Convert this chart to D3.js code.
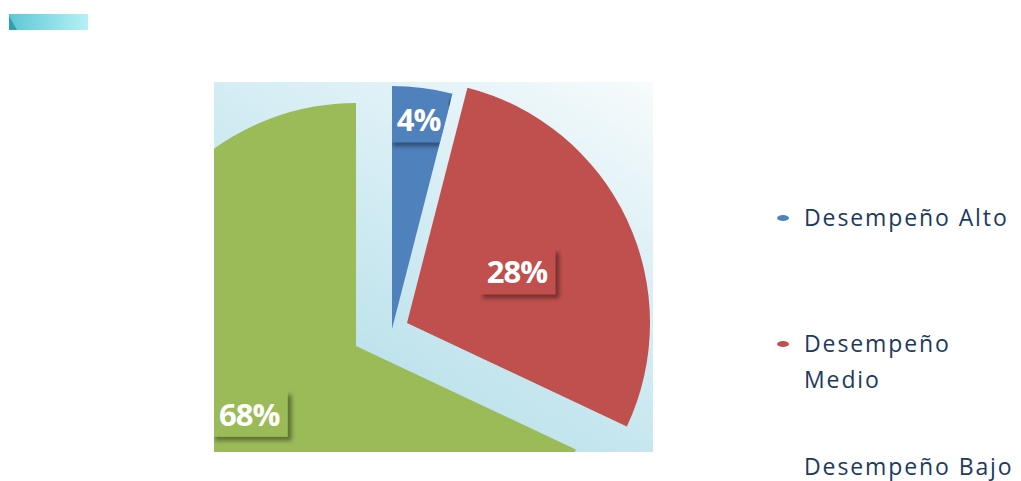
<!DOCTYPE html>
<html>
<head>
<meta charset="utf-8">
<script src="https://cdn.jsdelivr.net/npm/d3@7"></script>
<style>
  html, body { margin: 0; padding: 0; background: #ffffff; }
  svg { display: block; }
</style>
</head>
<body>
<svg id="chart" width="1021" height="481"></svg>
<script>
// ---- data ----
const categories = ["Desempeño Alto", "Desempeño Medio", "Desempeño Bajo"];
const values = [4, 28, 68];
const labels = ["4%", "28%", "68%"];
const colors = ["#4f81bd", "#c0504d", "#9bbb59"];
const legendLines = [["Desempeño Alto"], ["Desempeño", "Medio"], ["Desempeño Bajo"]];
const legendMarkers = ["#4f81bd", "#c0504d", "none"];

// ---- layout ----
const W = 1021, H = 481;
const plot = { x: 214, y: 82, w: 439, h: 370 };
const center = { x: 356, y: 346 };
const radius = 243;
const explode = [{ dx: 36, dy: -17 }, { dx: 51, dy: -23 }, { dx: 0, dy: 0 }];
const labelRadiusFactor = [0.87, 0.5, 0.52];

const svg = d3.select("#chart");
const defs = svg.append("defs");

// background gradient
const bg = defs.append("linearGradient").attr("id", "bgGrad")
  .attr("x1", "1").attr("y1", "0").attr("x2", "0.3").attr("y2", "1");
bg.append("stop").attr("offset", "0").attr("stop-color", "#f7fbfb");
bg.append("stop").attr("offset", "0.35").attr("stop-color", "#dcf0f6");
bg.append("stop").attr("offset", "1").attr("stop-color", "#b1dde8");

const tl = defs.append("linearGradient").attr("id", "barGrad")
  .attr("x1", "0").attr("y1", "0").attr("x2", "1").attr("y2", "0");
tl.append("stop").attr("offset", "0").attr("stop-color", "#5cc7d6");
tl.append("stop").attr("offset", "1").attr("stop-color", "#b6f1f6");

defs.append("clipPath").attr("id", "plotClip")
  .append("rect").attr("x", plot.x).attr("y", plot.y).attr("width", plot.w).attr("height", plot.h);

const shadow = defs.append("filter").attr("id", "boxShadow")
  .attr("x", "-30%").attr("y", "-30%").attr("width", "160%").attr("height", "160%");
shadow.append("feDropShadow").attr("dx", 4).attr("dy", 4).attr("stdDeviation", 2)
  .attr("flood-color", "#000").attr("flood-opacity", 0.4);

// top-left decoration
svg.append("rect").attr("x", 9).attr("y", 14).attr("width", 79).attr("height", 16)
  .attr("fill", "url(#barGrad)");
svg.append("path").attr("d", "M9,16 L9,30 L17,30 Z").attr("fill", "#1d8f9a").attr("opacity", 0.7);

// plot background
const g = svg.append("g").attr("clip-path", "url(#plotClip)");
g.append("rect").attr("x", plot.x).attr("y", plot.y).attr("width", plot.w).attr("height", plot.h)
  .attr("fill", "url(#bgGrad)");

const pie = d3.pie().sort(null).value(d => d)(values);
const arc = d3.arc().innerRadius(0).outerRadius(radius);

pie.forEach((p, i) => {
  const cx = center.x + explode[i].dx, cy = center.y + explode[i].dy;
  const cid = "sliceClip" + i;
  defs.append("clipPath").attr("id", cid)
    .append("path").attr("d", arc(p)).attr("transform", `translate(${cx},${cy})`);
  const sg = g.append("g");
  sg.append("path").attr("d", arc(p)).attr("transform", `translate(${cx},${cy})`)
    .attr("fill", colors[i]);
  // label
  const lr = radius * labelRadiusFactor[i];
  const la = d3.arc().innerRadius(lr).outerRadius(lr);
  const [lx, ly] = la.centroid(p);
  const lg = sg.append("g").attr("clip-path", `url(#${cid})`);
  const txt = lg.append("text").attr("x", cx + lx).attr("y", cy + ly)
    .attr("text-anchor", "middle").attr("dominant-baseline", "central")
    .attr("font-family", "Open Sans, sans-serif").attr("font-weight", 700)
    .attr("font-size", 31).attr("letter-spacing", -1).attr("fill", "#ffffff").text(labels[i]);
  const bb = txt.node().getBBox();
  lg.insert("rect", "text").attr("x", bb.x - 8).attr("y", cy + ly - 23)
    .attr("width", bb.width + 16).attr("height", 46)
    .attr("fill", colors[i]).attr("filter", "url(#boxShadow)");
});

// legend
const leg = svg.append("g");
const legendBaselines = [226, 352, 475];
categories.forEach((c, i) => {
  leg.append("ellipse").attr("cx", 783).attr("cy", legendBaselines[i] - 8)
    .attr("rx", 6).attr("ry", 3).attr("fill", legendMarkers[i]);
  const t = leg.append("text").attr("x", 804).attr("y", legendBaselines[i])
    .attr("font-family", "Open Sans, sans-serif").attr("font-size", 23)
    .attr("letter-spacing", 1.9).attr("fill", "#1c3a5e");
  legendLines[i].forEach((line, j) => {
    t.append("tspan").attr("x", 804).attr("dy", j === 0 ? 0 : 36).text(line);
  });
});
</script>
</body>
</html>
